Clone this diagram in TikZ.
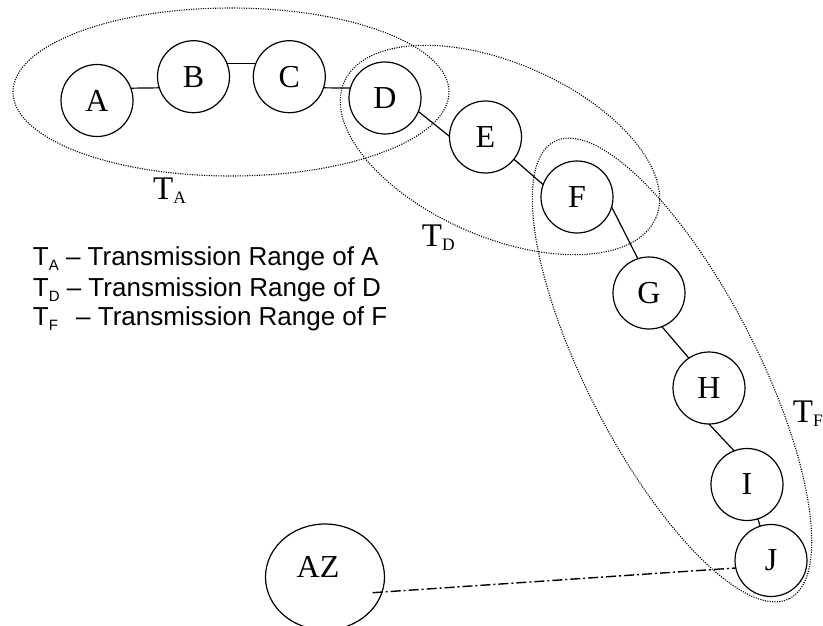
\documentclass[tikz,border=0pt]{standalone}
\usepackage{fontspec}
\setmainfont{Liberation Serif}
\newfontfamily\legendfont{Liberation Sans}
\usetikzlibrary{shapes.geometric}

\tikzset{
  station/.style={circle, draw, line width=1.2pt, minimum size=72pt,
    inner sep=0pt, outer sep=0pt, font=\fontsize{32}{32}\selectfont},
  bigstation/.style={ellipse, draw, line width=1.2pt, minimum width=119pt,
    minimum height=106pt, inner sep=0pt, outer sep=0pt},
  link/.style={line width=1.2pt},
  rangeline/.style={line width=1.1pt, dash pattern=on 1.1pt off 1.3pt},
  backlink/.style={line width=1.4pt, dash pattern=on 10pt off 3pt on 2pt off 3pt},
  rangelabel/.style={anchor=base west, inner sep=0pt, font=\fontsize{33}{33}\selectfont},
  legendline/.style={anchor=base west, inner sep=0pt,
    font=\legendfont\fontsize{26}{26}\selectfont},
}
% subscripts of the range names
\newcommand\rsub[1]{\raisebox{-4pt}{\fontsize{17.5}{17.5}\selectfont #1}}
\newcommand\lsub[1]{\raisebox{-4.3pt}{\fontsize{15}{15}\selectfont #1}}

\begin{document}
\begin{tikzpicture}[x=1pt,y=-1pt]
\useasboundingbox (0,0) rectangle (823,626);
\clip (0,0) rectangle (823,626);

% transmission ranges
\draw[rangeline] (231,92) ellipse [x radius=218pt, y radius=84pt];
\draw[rangeline, rotate around={-23.5:(500,150)}] (500,150) ellipse [x radius=170pt, y radius=87pt];
\draw[rangeline, rotate around={-62.8:(672,370)}] (672,370) ellipse [x radius=257pt, y radius=85pt];

% stations
\node[station] (A) at (97,100.5) {A};
\node[station] (B) at (193.5,76.7) {B};
\node[station] (C) at (289.3,76.7) {C};
\node[station] (D) at (385,98) {D};
\node[station] (E) at (485.5,137) {E};
\node[station] (F) at (577,197) {F};
\node[station] (G) at (649,293) {G};
\node[station] (H) at (709,388) {H};
\node[station] (I) at (747,484.5) {I};
\node[station] (J) at (771,560.5) {J};
\node[bigstation, label={[font=\fontsize{32}{32}\selectfont, xshift=-7pt, yshift=10pt]center:AZ}] (AZ) at (325,577) {};
\coordinate (azend) at (372.7,592.7);

% links
\draw[link] (A.20) -- (B.198);
\draw[link] (B.21) -- (C.159);
\draw[link] (C.-18) -- (D.164);
\draw[link] (D.-22) -- (E.179);
\draw[link] (E.-38) -- (F.160);
\draw[link] (F.-16.5) -- (G.108);
\draw[link] (G.-69) -- (H.124);
\draw[link] (H.-90) -- (I.111);
\draw[link] (I) -- (J);
\draw[backlink] (azend) -- (J.192);

% range names
\node[rangelabel] (TA) at (153,199.3) {T\rsub{A}};
\node[rangelabel] (TD) at (421.7,246.7) {T\rsub{D}};
\node[rangelabel] (TF) at (792.7,422.7) {T\rsub{F}};

% legend
\node[legendline] (LA) at (32.7,265.7) {T\lsub{A} – Transmission Range of A};
\node[legendline] (LD) at (32.7,296.7) {T\lsub{D} – Transmission Range of D};
\node[legendline] (LF) at (32.7,325.7) {T\lsub{F}\hspace{11pt} – Transmission Range of F};
\end{tikzpicture}
\end{document}
